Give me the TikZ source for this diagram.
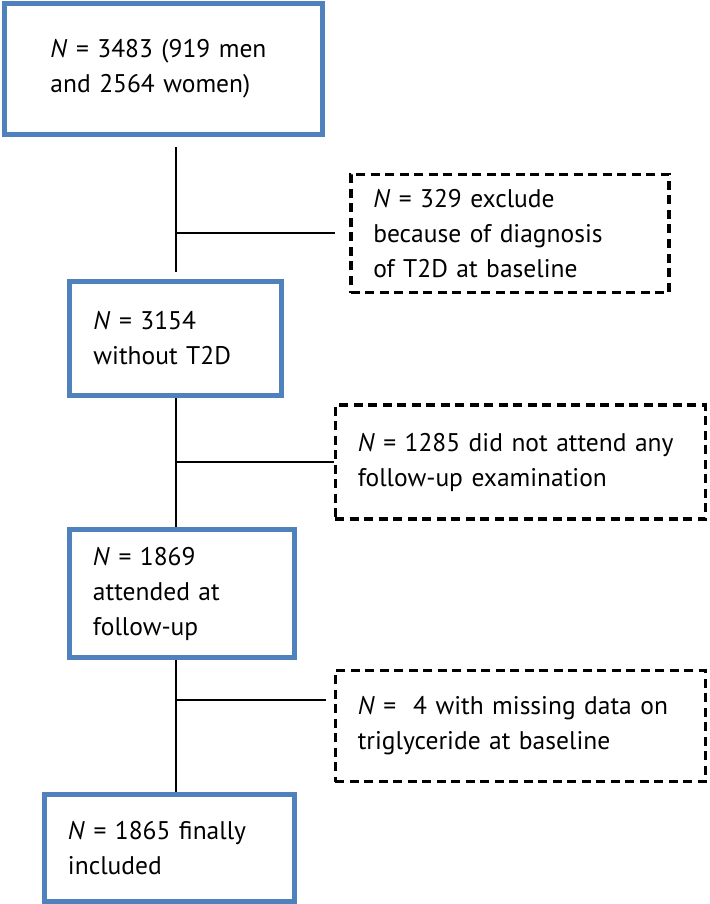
\documentclass[tikz,border=0pt]{standalone}
\usepackage{fontspec}
\setmainfont{PT Sans}
\usetikzlibrary{positioning,calc}
\definecolor{boxblue}{HTML}{4F81BD}
\tikzstyle{mainbox}=[rectangle,draw=boxblue,line width=5pt,align=left,
inner xsep=23.5pt,inner ysep=0pt,font=\fontsize{25.5}{35}\selectfont]
\tikzstyle{exclbox}=[rectangle,draw=black,line width=3.5pt,dash pattern=on 9pt off 5.5pt,
align=left,inner xsep=22.5pt,inner ysep=0pt,font=\fontsize{25.5}{35}\selectfont]
\tikzstyle{line}=[line width=2pt]

\begin{document}
\begin{tikzpicture}[node distance=2cm]
    \useasboundingbox (-163.5pt,69pt) rectangle (545.5pt,-835pt);
        \node (total) [mainbox,text width=226pt,minimum height=131pt,inner xsep=46pt] {\textit{N} = 3483 (919 men\\and 2564 women)};
        \node (noT2D) [mainbox,text width=164pt,minimum height=114pt,below=142pt of total,xshift=12pt] {\textit{N} = 3154\\without T2D};
        \node (attend) [mainbox,text width=178pt,minimum height=128pt,below=129pt of noT2D,xshift=6.5pt] {\textit{N} = 1869\\attended at\\follow-up};
        \node (final) [mainbox,text width=203pt,minimum height=107pt,below=132pt of attend,xshift=-12.5pt] {\textit{N} = 1865 finally\\included};

        \node (exT2D) [exclbox,text width=273pt,minimum height=118pt,right=24pt of total,yshift=-164.5pt] {\textit{N} = 329 exclude\\because of diagnosis\\of T2D at baseline};
        \node (exfollow) [exclbox,text width=325pt,minimum height=114pt,below=109pt of exT2D,xshift=10.5pt] {\textit{N} = 1285 did not attend any\\follow-up examination};
        \node (exmiss) [exclbox,text width=325pt,minimum height=111pt,below=148pt of exfollow] {\textit{N} =~ 4 with missing data on\\triglyceride at baseline};

        \draw [line] ($(total.south -| noT2D.north)+(0,-10pt)$) -- ($(noT2D.north)+(0,7pt)$);
        \draw [line] (noT2D.north |- exT2D.west) -- ($(exT2D.west)+(-14pt,0)$);
        \draw [line] (noT2D.south) -- (noT2D.south |- attend.north);
        \draw [line] (noT2D.south |- exfollow.west) -- (exfollow.west);
        \draw [line] (noT2D.south |- attend.south) -- (noT2D.south |- final.north);
        \draw [line] ($(noT2D.south |- exmiss.west)+(0,26pt)$) -- ($(exmiss.west)+(-8pt,26pt)$);

    \end{tikzpicture}
\end{document}
